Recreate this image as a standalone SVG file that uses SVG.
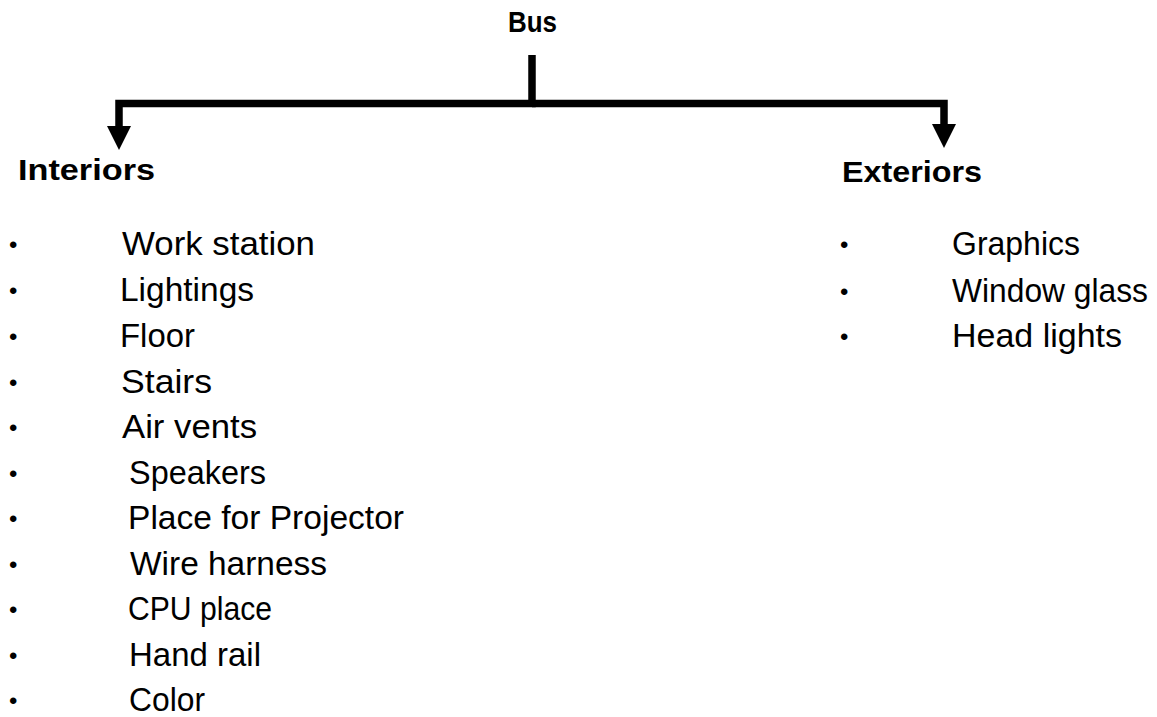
<svg xmlns="http://www.w3.org/2000/svg" width="1157" height="717" viewBox="0 0 1157 717">
<style>
.t{font-family:"Liberation Sans",Arial,sans-serif;fill:#000}
.h{font-size:30px;font-weight:bold}
.i{font-size:33px}
.b{font-size:24px}
.c{fill:none;stroke:#000;stroke-width:7.5;stroke-linejoin:miter}
</style>
<defs>
<marker id="ah" markerUnits="userSpaceOnUse" markerWidth="24" markerHeight="24" viewBox="0 0 24 24" refX="4" refY="12" orient="auto">
<path d="M0,0 L24,12 L0,24 z" fill="#000"/>
</marker>
</defs>
<rect width="1157" height="717" fill="#fff"/>
<g id="connectors">
<path class="c" d="M532,55 V103.5 H119 V130" marker-end="url(#ah)"/>
<path class="c" d="M532,103.5 H944 V128" marker-end="url(#ah)"/>
</g>
<g id="bus"><text class="t h" x="508" y="32" textLength="49" lengthAdjust="spacingAndGlyphs">Bus</text></g>
<g id="interiors">
<text class="t h" x="18" y="180" textLength="137" lengthAdjust="spacingAndGlyphs">Interiors</text>
<g class="t b">
<text x="9" y="253">•</text><text x="9" y="299">•</text><text x="9" y="345">•</text><text x="9" y="391">•</text><text x="9" y="436">•</text><text x="9" y="482">•</text><text x="9" y="527">•</text><text x="9" y="573">•</text><text x="9" y="618">•</text><text x="9" y="664">•</text><text x="9" y="709">•</text>
</g>
<g class="t i">
<text x="122" y="255" textLength="193" lengthAdjust="spacingAndGlyphs">Work station</text>
<text x="120" y="301" textLength="134" lengthAdjust="spacingAndGlyphs">Lightings</text>
<text x="120" y="347" textLength="75" lengthAdjust="spacingAndGlyphs">Floor</text>
<text x="121" y="393" textLength="91" lengthAdjust="spacingAndGlyphs">Stairs</text>
<text x="122" y="438" textLength="135" lengthAdjust="spacingAndGlyphs">Air vents</text>
<text x="129" y="484" textLength="137" lengthAdjust="spacingAndGlyphs">Speakers</text>
<text x="128" y="529" textLength="276" lengthAdjust="spacingAndGlyphs">Place for Projector</text>
<text x="130" y="575" textLength="197" lengthAdjust="spacingAndGlyphs">Wire harness</text>
<text x="128" y="620" textLength="144" lengthAdjust="spacingAndGlyphs">CPU place</text>
<text x="129" y="666" textLength="132" lengthAdjust="spacingAndGlyphs">Hand rail</text>
<text x="129" y="711" textLength="76" lengthAdjust="spacingAndGlyphs">Color</text>
</g>
</g>
<g id="exteriors">
<text class="t h" x="842" y="182" textLength="140" lengthAdjust="spacingAndGlyphs">Exteriors</text>
<g class="t b">
<text x="840" y="253">•</text><text x="840" y="300">•</text><text x="840" y="345">•</text>
</g>
<g class="t i">
<text x="952" y="255" textLength="128" lengthAdjust="spacingAndGlyphs">Graphics</text>
<text x="952" y="302" textLength="196" lengthAdjust="spacingAndGlyphs">Window glass</text>
<text x="952" y="347" textLength="170" lengthAdjust="spacingAndGlyphs">Head lights</text>
</g>
</g>
</svg>
